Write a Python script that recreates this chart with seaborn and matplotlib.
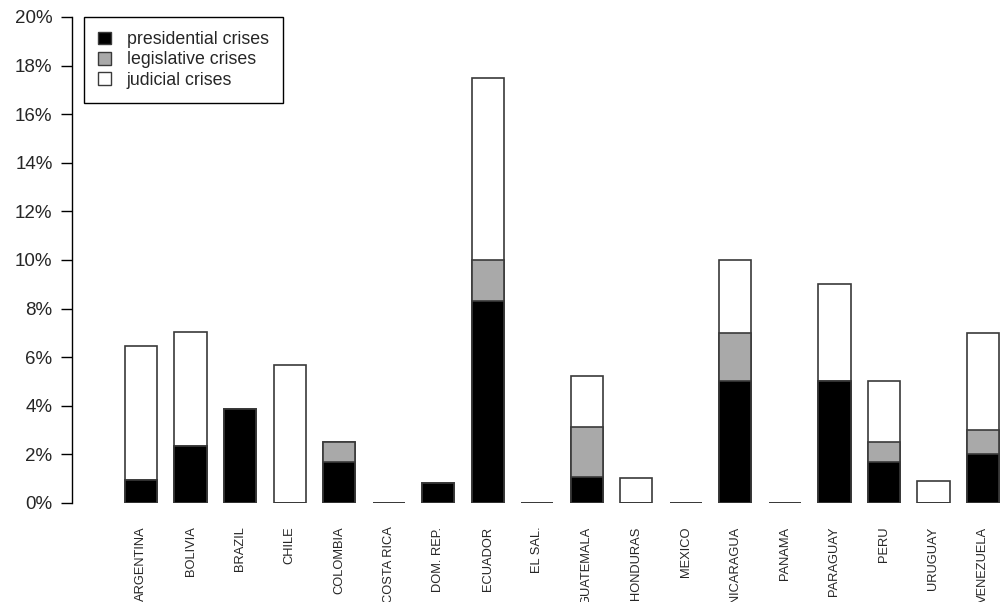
import matplotlib
matplotlib.use("Agg")
import matplotlib.pyplot as plt
import seaborn as sns
import numpy as np
from matplotlib.patches import Patch

# Share of years with each type of institutional crisis, by country (%)
countries = ["ARGENTINA", "BOLIVIA", "BRAZIL", "CHILE", "COLOMBIA", "COSTA RICA",
             "DOM. REP.", "ECUADOR", "EL SAL.", "GUATEMALA", "HONDURAS", "MEXICO",
             "NICARAGUA", "PANAMA", "PARAGUAY", "PERU", "URUGUAY", "VENEZUELA"]
presidential = [0.95, 2.35, 3.87, 0.0, 1.69, 0.0, 0.82, 8.33, 0.0, 1.06, 0.0, 0.0,
                5.0, 0.0, 5.0, 1.67, 0.0, 2.0]
legislative = [0.0, 0.0, 0.0, 0.0, 0.83, 0.0, 0.0, 1.67, 0.0, 2.08, 0.0, 0.0,
               2.0, 0.0, 0.0, 0.83, 0.0, 1.0]
judicial = [5.5, 4.7, 0.0, 5.68, 0.0, 0.0, 0.0, 7.5, 0.0, 2.1, 1.03, 0.0,
            3.0, 0.0, 4.0, 2.5, 0.9, 4.0]
yticks = [0, 2, 4, 6, 8, 10, 12, 14, 16, 18, 20]
legend_labels = ["presidential crises", "legislative crises", "judicial crises"]

sns.set_style("white")
plt.rcParams["font.family"] = ["Liberation Sans", "DejaVu Sans"]

pres = np.array(presidential)
pres_leg = pres + np.array(legislative)
total = pres_leg + np.array(judicial)

fig = plt.figure(figsize=(10, 6.02), dpi=100)
ax = fig.add_axes([0.072, 0.1645, 0.928, 0.8073])

edge = "#3a3a3a"
common = dict(width=0.65, saturation=1, edgecolor=edge, linewidth=1.2, ax=ax)
sns.barplot(x=countries, y=total, color="white", **common)
sns.barplot(x=countries, y=pres_leg, color="#a9a9a9", **common)
sns.barplot(x=countries, y=pres, color="black", **common)

ax.set_xlim(-1.394, 17.343)
ax.set_ylim(0, 20)
ax.set_yticks(yticks)
ax.set_yticklabels([f"{t}%" for t in yticks], fontsize=13.5)
ax.tick_params(axis="y", length=8, width=1, color="black", pad=6, left=True)
ax.tick_params(axis="x", length=0, pad=17, labelsize=9.3)
for lbl in ax.get_xticklabels():
    lbl.set_rotation(90)
    lbl.set_va("top")
    lbl.set_ha("center")

for side in ["top", "right", "bottom"]:
    ax.spines[side].set_visible(False)
ax.spines["left"].set_color("black")
ax.spines["left"].set_linewidth(1)
ax.set_xlabel("")
ax.set_ylabel("")

handles = [Patch(facecolor=c, edgecolor=edge, linewidth=1)
           for c in ["black", "#a9a9a9", "white"]]
leg = ax.legend(handles, legend_labels, loc="upper left",
                bbox_to_anchor=(0.0129, 1.0), borderaxespad=0, fontsize=12.8,
                handlelength=0.72, handleheight=0.72, handletextpad=0.9,
                labelspacing=0.18, borderpad=0.8, fancybox=False, frameon=True)
leg.get_frame().set_edgecolor("black")
leg.get_frame().set_linewidth(1)
leg.get_frame().set_alpha(1)

fig.savefig("out.png", dpi=100, facecolor="white")
